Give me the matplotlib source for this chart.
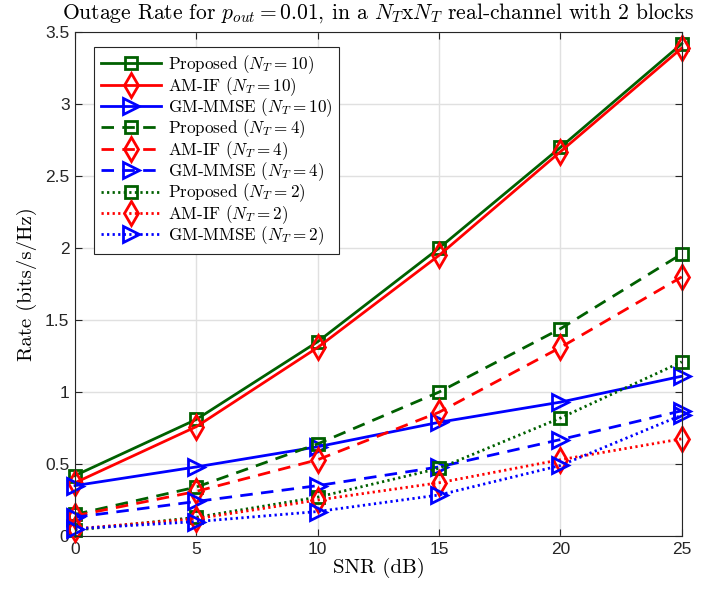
import matplotlib
matplotlib.use("Agg")
import matplotlib.pyplot as plt

plt.rcParams['mathtext.fontset'] = 'cm'

# datos
snr = [0, 5, 10, 15, 20, 25]

prop_10 = [0.42, 0.81, 1.35, 2.00, 2.70, 3.42]
amif_10 = [0.37, 0.76, 1.31, 1.95, 2.67, 3.39]
gm_10 = [0.35, 0.48, 0.62, 0.79, 0.93, 1.11]

prop_4 = [0.15, 0.34, 0.64, 1.00, 1.44, 1.96]
amif_4 = [0.14, 0.31, 0.53, 0.86, 1.31, 1.80]
gm_4 = [0.13, 0.24, 0.35, 0.48, 0.67, 0.87]

prop_2 = [0.04, 0.13, 0.27, 0.47, 0.82, 1.21]
amif_2 = [0.05, 0.12, 0.25, 0.37, 0.53, 0.675]
gm_2 = [0.05, 0.10, 0.17, 0.285, 0.49, 0.84]

labels = [
    r"Proposed ($N_T=10$)", r"AM-IF ($N_T=10$)", r"GM-MMSE ($N_T=10$)",
    r"Proposed ($N_T=4$)", r"AM-IF ($N_T=4$)", r"GM-MMSE ($N_T=4$)",
    r"Proposed ($N_T=2$)", r"AM-IF ($N_T=2$)", r"GM-MMSE ($N_T=2$)",
]
series = [prop_10, amif_10, gm_10, prop_4, amif_4, gm_4, prop_2, amif_2, gm_2]

green = "#006000"
red = "#ff0000"
blue = "#0000ff"
colors = [green, red, blue] * 3
markers = ["s", "d", ">"] * 3
msizes = [9, 12, 12] * 3
solid = "-"
dashed = (0, (4.5, 3))
dotted = (0, (0.8, 1.2))
styles = [solid] * 3 + [dashed] * 3 + [dotted] * 3

fig = plt.figure(figsize=(7.08, 5.92), dpi=100)
ax = fig.add_axes([0.106, 0.0946, 0.857, 0.851])

for y, lab, c, m, ms, ls in zip(series, labels, colors, markers, msizes, styles):
    ax.plot(snr, y, color=c, marker=m, markersize=ms, markerfacecolor="none",
            markeredgewidth=2, linewidth=2, linestyle=ls, label=lab, clip_on=False)

ax.set_xlim(0, 25)
ax.set_ylim(0, 3.5)
ax.set_xticks(snr)
ax.set_yticks([0, 0.5, 1, 1.5, 2, 2.5, 3, 3.5])
ax.set_yticklabels(["0", "0.5", "1", "1.5", "2", "2.5", "3", "3.5"])
ax.grid(True, color="#e0e0e0", linewidth=1)
ax.set_axisbelow(True)
ax.tick_params(direction="in", top=True, right=True, labelsize=12.5, color="#262626",
               labelcolor="#262626", length=5, pad=4)
for lbl in ax.get_xticklabels() + ax.get_yticklabels():
    lbl.set_fontfamily("Liberation Sans")
for sp in ax.spines.values():
    sp.set_color("#262626")
    sp.set_linewidth(0.8)

ax.set_xlabel("SNR (dB)", fontfamily="cmr10", fontsize=15, labelpad=1)
ax.set_ylabel("Rate (bits/s/Hz)", fontfamily="cmr10", fontsize=15, labelpad=6)
ax.set_title(r"Outage Rate for $p_{out}=0.01$, in a $N_T$x$N_T$ real-channel with 2 blocks",
             fontfamily="cmr10", fontsize=15.5, pad=10)

leg = ax.legend(loc="upper left", bbox_to_anchor=(0.026, 0.978), prop={"family": "cmr10", "size": 12.3},
                handlelength=3.5, fancybox=False, framealpha=1, edgecolor="#262626",
                labelspacing=-0.08, borderpad=0.4, handletextpad=0.4, borderaxespad=0.2)
leg.get_frame().set_linewidth(0.8)

fig.savefig("out.png", dpi=100)
